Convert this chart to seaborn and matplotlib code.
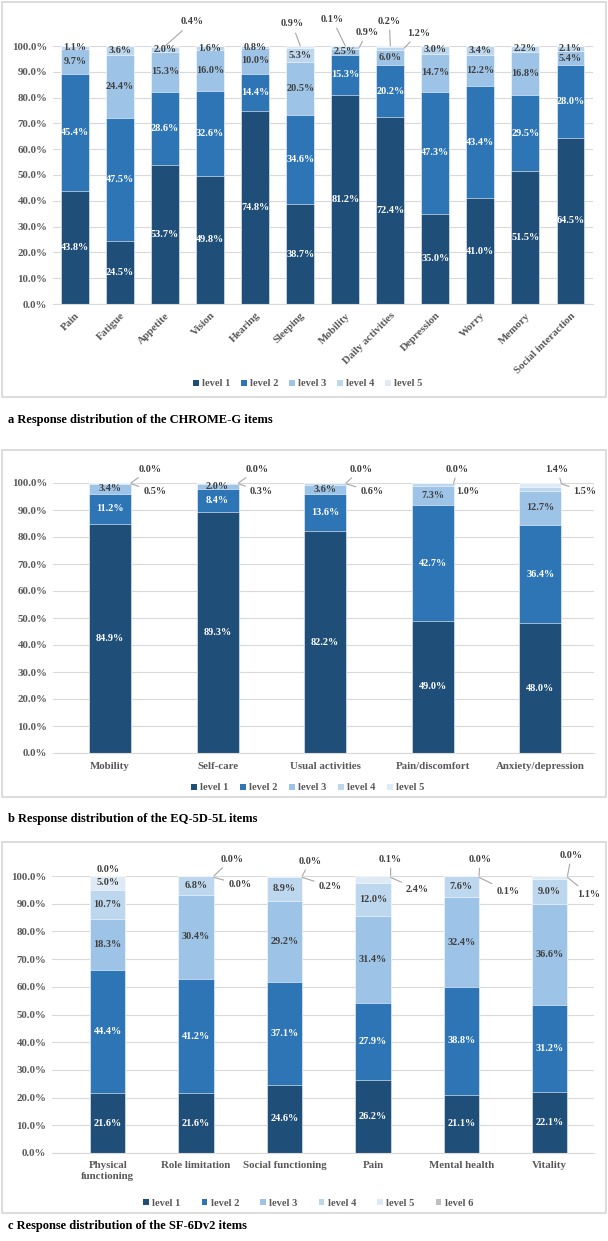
import numpy as np
import matplotlib
matplotlib.use("Agg")
import matplotlib.pyplot as plt
from matplotlib.patches import Patch, Rectangle
import seaborn as sns

# ---- data (percent of respondents per response level) ----
chrome_items = ["Pain", "Fatigue", "Appetite", "Vision", "Hearing", "Sleeping",
                "Mobility", "Daily activities", "Depression", "Worry", "Memory",
                "Social interaction"]
chrome_l1 = [43.8, 24.5, 53.7, 49.8, 74.8, 38.7, 81.2, 72.4, 35.0, 41.0, 51.5, 64.5]
chrome_l2 = [45.4, 47.5, 28.6, 32.6, 14.4, 34.6, 15.3, 20.2, 47.3, 43.4, 29.5, 28.0]
chrome_l3 = [9.7, 24.4, 15.3, 16.0, 10.0, 20.5, 2.5, 6.0, 14.7, 12.2, 16.8, 5.4]
chrome_l4 = [1.1, 3.6, 2.0, 1.6, 0.8, 5.3, 0.9, 1.2, 3.0, 3.4, 2.2, 2.1]
chrome_l5 = [0.0, 0.0, 0.4, 0.0, 0.0, 0.9, 0.1, 0.2, 0.0, 0.0, 0.0, 0.0]

eq_items = ["Mobility", "Self-care", "Usual activities", "Pain/discomfort", "Anxiety/depression"]
eq_l1 = [84.9, 89.3, 82.2, 49.0, 48.0]
eq_l2 = [11.2, 8.4, 13.6, 42.7, 36.4]
eq_l3 = [3.4, 2.0, 3.6, 7.3, 12.7]
eq_l4 = [0.5, 0.3, 0.6, 1.0, 1.5]
eq_l5 = [0.0, 0.0, 0.0, 0.0, 1.4]

sf_items = ["Physical\nfunctioning", "Role limitation", "Social functioning", "Pain",
            "Mental health", "Vitality"]
sf_l1 = [21.6, 21.6, 24.6, 26.2, 21.1, 22.1]
sf_l2 = [44.4, 41.2, 37.1, 27.9, 38.8, 31.2]
sf_l3 = [18.3, 30.4, 29.2, 31.4, 32.4, 36.6]
sf_l4 = [10.7, 6.8, 8.9, 12.0, 7.6, 9.0]
sf_l5 = [5.0, 0.0, 0.2, 2.4, 0.1, 1.1]
sf_l6 = [0.0, 0.0, 0.0, 0.1, 0.0, 0.0]

level_names = ["level 1", "level 2", "level 3", "level 4", "level 5", "level 6"]
colors = ["#1F4E79", "#2E75B6", "#9DC3E6", "#BDD7EE", "#DEEBF7", "#BFBFBF"]

sns.set_style("white")
plt.rcParams['font.family'] = ['Liberation Serif', 'DejaVu Serif']
plt.rcParams['font.weight'] = 'bold'

W, H = 608, 1241
TXT = '#404040'
GREY = '#595959'
LINE = '#A6A6A6'
LS = 7.4  # data label size

fig = plt.figure(figsize=(W / 100, H / 100), dpi=100)


def fx(x):
    return x / W


def fy(y):
    return 1 - y / H


def make_axes(left, right, top, bottom):
    return fig.add_axes([fx(left), fy(bottom), (right - left) / W, (bottom - top) / H])


def frame(top, bottom, caption, cap_y):
    fig.add_artist(Rectangle((fx(2), fy(bottom)), 604 / W, (bottom - top) / H,
                             transform=fig.transFigure, fill=False,
                             edgecolor='#D9D9D9', lw=1.3))
    fig.text(fx(8), fy(cap_y), caption, fontsize=9, fontweight='bold',
             ha='left', va='center', color='black')


def stacked(ax, items, levels, width, xlim, skip=(), xpad=4):
    levels = np.array(levels)
    cum = np.cumsum(levels, axis=0)
    # draw cumulative totals from the top level down so they stack
    for k in range(len(levels) - 1, -1, -1):
        sns.barplot(x=items, y=cum[k], color=colors[k], width=width, saturation=1,
                    edgecolor='white', linewidth=0.4, ax=ax)
    ax.set_xlim(*xlim)
    ax.set_ylim(0, 100)
    ticks = np.arange(0, 101, 10)
    ax.set_yticks(ticks)
    ax.set_yticklabels([f"{t:.1f}%" for t in ticks])
    ax.yaxis.grid(True, color='#D9D9D9', lw=0.8)
    ax.set_axisbelow(True)
    for s in ['top', 'right', 'left']:
        ax.spines[s].set_visible(False)
    ax.spines['bottom'].set_color('#D9D9D9')
    ax.tick_params(length=0, colors=GREY, labelsize=7.8, pad=4)
    ax.tick_params(axis='x', pad=xpad)
    ax.set_xlabel('')
    ax.set_ylabel('')
    # labels inside the segments
    for k in range(len(levels)):
        for i in range(len(items)):
            v = levels[k][i]
            if v <= 0 or (i, k) in skip:
                continue
            y = cum[k][i] - v / 2
            ax.text(i, y, f"{v:.1f}%", ha='center', va='center', fontsize=LS,
                    fontweight='bold', color='white' if k < 2 else TXT)
    return levels


def callout(ax, value, xy, dx, dy, line=True):
    ax.annotate(f"{value:.1f}%", xy=xy, xytext=(dx * 0.72, dy * 0.72),
                textcoords='offset points', ha='center', va='center',
                fontsize=LS, fontweight='bold', color=TXT, annotation_clip=False,
                arrowprops=dict(arrowstyle='-', color=LINE, lw=0.8,
                                shrinkA=1, shrinkB=0) if line else None)


def legend(n, x, y, spacing):
    handles = [Patch(facecolor=colors[k], edgecolor='none') for k in range(n)]
    fig.legend(handles, level_names[:n], loc='center', bbox_to_anchor=(fx(x), fy(y)),
               ncol=n, frameon=False, handlelength=0.55, handleheight=0.55,
               handletextpad=0.3, columnspacing=spacing,
               prop=dict(family='Liberation Serif', weight='bold', size=7.6),
               labelcolor=GREY)


# ---------------- panel a: CHROME-G ----------------
frame(2, 397, "a Response distribution of the CHROME-G items", 420)
ax_a = make_axes(53, 593, 46, 304)
a_levels = [chrome_l1, chrome_l2, chrome_l3, chrome_l4, chrome_l5]
a_calls = [(2, 4, 0.0, 100, 27, 24), (5, 4, 0.0, 100, -8, 22),
           (6, 4, 0.0, 100, -13, 27), (6, 3, 0.31, 99.5, 8, 15),
           (7, 4, 0.0, 100, -1, 25), (7, 3, 0.31, 99.2, 14, 15)]
stacked(ax_a, chrome_items, a_levels, 0.62, (-0.49, 11.5),
        skip={(c[0], c[1]) for c in a_calls}, xpad=5)
for i, k, xo, yv, dx, dy in a_calls:
    callout(ax_a, a_levels[k][i], (i + xo, yv), dx, dy)
for lab in ax_a.get_xticklabels():
    lab.set_rotation(45)
    lab.set_ha('right')
    lab.set_rotation_mode('anchor')
legend(5, 308, 384, 1.0)

# ---------------- panel b: EQ-5D-5L ----------------
frame(450, 797, "b Response distribution of the EQ-5D-5L items", 819)
ax_b = make_axes(53, 594, 483, 753)
b_levels = [eq_l1, eq_l2, eq_l3, eq_l4, eq_l5]
stacked(ax_b, eq_items, b_levels, 0.39, (-0.53, 4.5),
        skip={(i, k) for i in range(5) for k in (3, 4)}, xpad=6.5)
b_top_dx = [19, 19, 15, 4, -4]
b_right_dx = [24, 23, 26, 14, 24]
for i in range(5):
    callout(ax_b, eq_l5[i], (i + 0.195, 100), b_top_dx[i], 14)
    callout(ax_b, eq_l4[i], (i + 0.195, 99.7), b_right_dx[i], -8)
legend(5, 308, 788, 1.1)

# ---------------- panel c: SF-6Dv2 ----------------
frame(842, 1213, "c Response distribution of the SF-6Dv2 items", 1226)
ax_c = make_axes(52, 594, 876, 1153)
c_levels = [sf_l1, sf_l2, sf_l3, sf_l4, sf_l5, sf_l6]
stacked(ax_c, sf_items, c_levels, 0.40, (-0.63, 5.5),
        skip={(i, k) for i in range(1, 6) for k in (4, 5)} | {(0, 5)}, xpad=6)
for lab in ax_c.get_xticklabels():
    lab.set_linespacing(1.25)
callout(ax_c, sf_l6[0], (0, 100), 0, 7, line=False)
c_top_dx = [18, 8, 0, 1, 4]
c_top_dy = [17, 15, 17, 17, 21]
c_right_dx = [26, 28, 27, 29, 21]
c_right_dy = [-7, -9, -12, -14, -17]
for j, i in enumerate(range(1, 6)):
    callout(ax_c, sf_l6[i], (i + 0.2, 100), c_top_dx[j], c_top_dy[j])
    callout(ax_c, sf_l5[i], (i + 0.2, 99.5), c_right_dx[j], c_right_dy[j])
legend(6, 308, 1203, 2.0)

fig.savefig("out.png", dpi=100, facecolor='white')
